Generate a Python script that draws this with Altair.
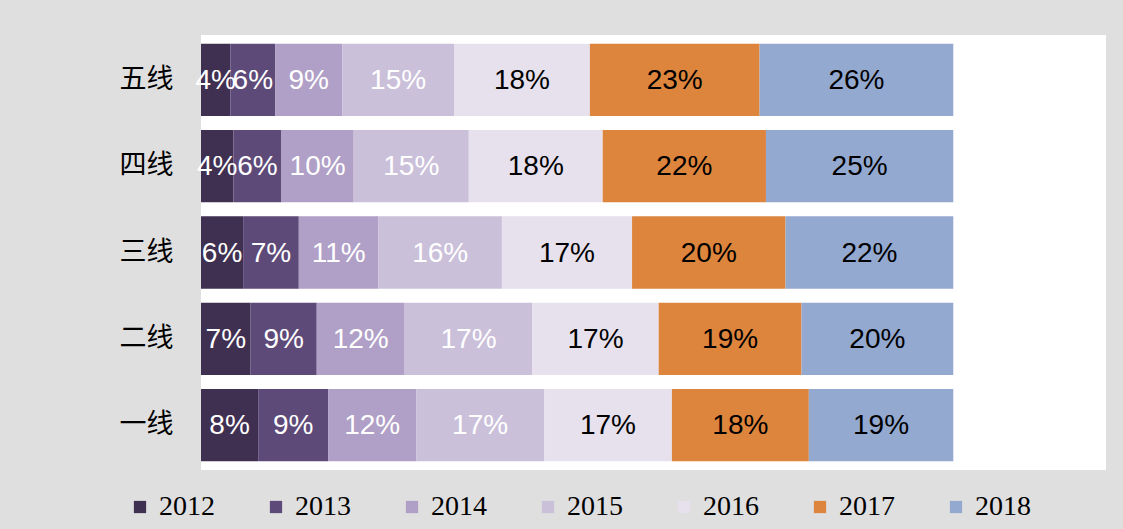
import altair as alt
import pandas as pd

cities = ["五线", "四线", "三线", "二线", "一线"]
years = ["2012", "2013", "2014", "2015", "2016", "2017", "2018"]
colors = ["#3f3052", "#5e4a79", "#b09fc6", "#cbc0da", "#e6e1ec", "#dd843d", "#93a9d0"]

share_wu = [0.039, 0.060, 0.089, 0.149, 0.181, 0.226, 0.258]
share_si = [0.043, 0.064, 0.096, 0.153, 0.178, 0.217, 0.249]
share_san = [0.056, 0.074, 0.106, 0.164, 0.173, 0.204, 0.223]
share_er = [0.066, 0.088, 0.117, 0.170, 0.168, 0.190, 0.202]
share_yi = [0.076, 0.093, 0.117, 0.170, 0.170, 0.182, 0.192]

rows = []
for city, vals in zip(cities, [share_wu, share_si, share_san, share_er, share_yi]):
    for i, (yr, v) in enumerate(zip(years, vals)):
        rows.append({"city": city, "year": yr, "order": i, "value": v})
df = pd.DataFrame(rows)

base = alt.Chart(df).transform_stack(
    stack="value",
    groupby=["city"],
    as_=["v0", "v1"],
    offset="normalize",
    sort=[alt.SortField("order", order="ascending")],
).transform_calculate(mid="(datum.v0 + datum.v1) / 2")

yenc = alt.Y(
    "city:N",
    sort=cities,
    scale=alt.Scale(paddingInner=0.163, paddingOuter=0.1),
    axis=alt.Axis(
        title=None, domain=False, ticks=False, grid=False,
        labelFont="Noto Sans CJK SC", labelFontSize=27, labelColor="black",
        labelPadding=28,
    ),
)

bars = base.mark_bar().encode(
    y=yenc,
    x=alt.X("v0:Q", scale=alt.Scale(domain=[0, 1.203], nice=False), axis=None),
    x2="v1:Q",
    color=alt.Color(
        "year:N",
        scale=alt.Scale(domain=years, range=colors),
        legend=alt.Legend(
            title=None, orient="none", legendX=-75, legendY=458,
            direction="horizontal", columns=7, symbolType="square",
            symbolSize=150, symbolStrokeWidth=0, symbolOpacity=1,
            labelFont="Liberation Serif", labelFontSize=28, labelColor="black",
            columnPadding=47, labelOffset=5,
        ),
    ),
)

labels = base.mark_text(font="Liberation Sans", fontSize=28, dy=1).encode(
    y=alt.Y("city:N", sort=cities),
    x=alt.X("mid:Q"),
    text=alt.Text("value:Q", format=".0%"),
    color=alt.condition("datum.order < 4", alt.value("white"), alt.value("black")),
)

chart = alt.layer(bars, labels).properties(
    width=905,
    height=435,
    background="#dfdfdf",
    padding={"left": 201, "top": 35, "right": 17, "bottom": 59},
    autosize=alt.AutoSizeParams(type="none"),
).configure_view(fill="white", strokeWidth=0)

chart.save("out.html", embed_options={"renderer": "svg", "actions": False})
